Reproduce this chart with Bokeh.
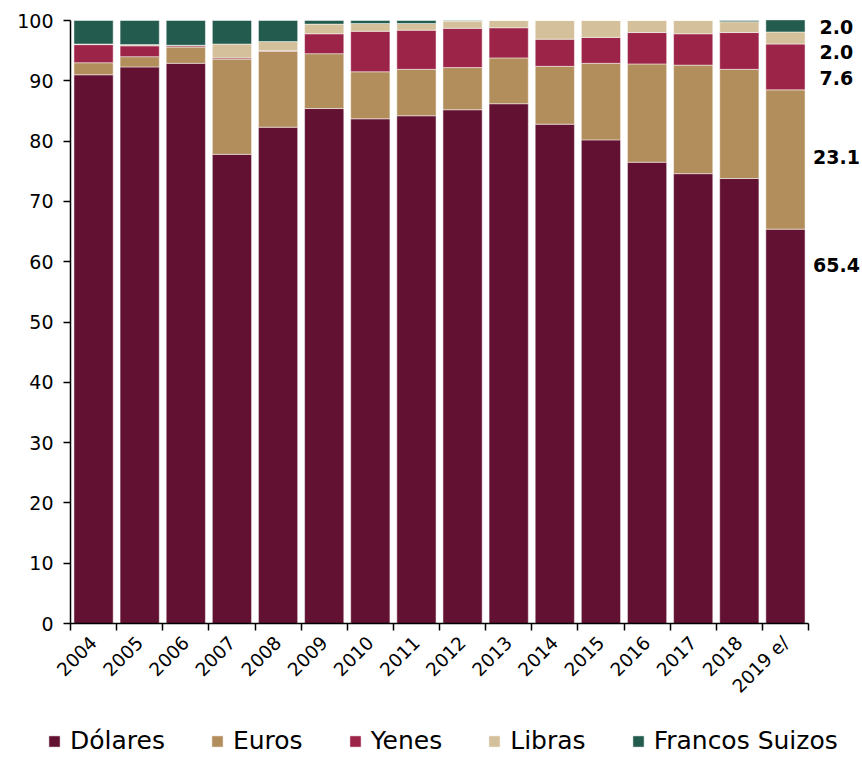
import numpy as np
from bokeh.plotting import figure
from bokeh.models import ColumnDataSource, FixedTicker, Legend, LegendItem, Range1d
from bokeh.core.properties import value
from bokeh.embed import file_html
from bokeh.resources import INLINE

# Currency composition of the debt, percent of total
years = ["2004", "2005", "2006", "2007", "2008", "2009", "2010", "2011",
         "2012", "2013", "2014", "2015", "2016", "2017", "2018", "2019 e/"]
dolares = [91.0, 92.3, 92.9, 77.8, 82.3, 85.4, 83.7, 84.2,
           85.2, 86.2, 82.8, 80.2, 76.5, 74.6, 73.8, 65.4]
euros = [2.0, 1.7, 2.7, 15.8, 12.6, 9.1, 7.8, 7.7,
         7.0, 7.6, 9.6, 12.7, 16.3, 18.0, 18.1, 23.1]
yenes = [3.0, 1.8, 0.2, 0.2, 0.1, 3.3, 6.7, 6.5,
         6.5, 5.0, 4.5, 4.3, 5.2, 5.2, 6.1, 7.6]
libras = [0.1, 0.2, 0.1, 2.3, 1.5, 1.6, 1.3, 1.1,
          1.2, 1.2, 3.1, 2.8, 2.0, 2.2, 1.8, 2.0]
francos = [3.9, 4.0, 4.1, 3.9, 3.5, 0.6, 0.5, 0.5,
           0.1, 0.0, 0.0, 0.0, 0.0, 0.0, 0.2, 2.0]

series_names = ["Dólares", "Euros", "Yenes", "Libras", "Francos Suizos"]
keys = ["dolares", "euros", "yenes", "libras", "francos"]
colors = ["#621132", "#B38E5D", "#9D2449", "#D4C19C", "#235B4E"]

FONT = "DejaVu Sans"
W, H = 862, 758
# plotting area in pixels: x 70..808, y 20..623
left, right, top, bottom = 70, 808, 20, 623

n = len(years)
xu = (right - left) / n          # pixels per bar slot
yu = (bottom - top) / 100.0      # pixels per percentage point

xpos = np.arange(n) + 0.5
src = ColumnDataSource(dict(x=xpos, dolares=dolares, euros=euros,
                            yenes=yenes, libras=libras, francos=francos))

p = figure(width=W, height=H,
           x_range=Range1d(-left / xu, (W - left) / xu),
           y_range=Range1d(-(H - bottom) / yu, 100 + top / yu),
           output_backend="svg", toolbar_location=None,
           min_border=0, min_border_left=0, min_border_right=0,
           min_border_top=0, min_border_bottom=0)
p.outline_line_color = None
p.xgrid.grid_line_color = None
p.ygrid.grid_line_color = None
p.background_fill_color = "white"
p.border_fill_color = "white"

renderers = p.vbar_stack(keys, x="x", width=0.85, color=colors, source=src,
                         line_color="white", line_width=0.8, line_alpha=0.6)

# y axis
p.yaxis.fixed_location = 0
p.yaxis.bounds = (0, 100)
p.yaxis.ticker = FixedTicker(ticks=list(range(0, 101, 10)))
p.yaxis.axis_line_color = "black"
p.yaxis.axis_line_width = 1.5
p.yaxis.major_tick_line_width = 1.5
p.yaxis.major_tick_out = 7
p.yaxis.major_tick_in = 0
p.yaxis.minor_tick_line_color = None
p.yaxis.major_label_text_font = FONT
p.yaxis.major_label_text_font_size = "19px"
p.yaxis.major_label_text_color = "black"
p.yaxis.major_label_standoff = 10

# x axis: labels at bar centres, ticks between bars
p.xaxis.fixed_location = 0
p.xaxis.bounds = (0, n)
p.xaxis.ticker = FixedTicker(ticks=list(xpos), minor_ticks=list(range(n + 1)))
p.xaxis.major_label_overrides = {float(v): y for v, y in zip(xpos, years)}
p.xaxis.major_tick_out = 0
p.xaxis.major_tick_in = 0
p.xaxis.minor_tick_out = 7
p.xaxis.minor_tick_in = 0
p.xaxis.minor_tick_line_width = 1.5
p.xaxis.minor_tick_line_color = "black"
p.xaxis.axis_line_width = 1.5
p.xaxis.major_label_orientation = np.pi / 4
p.xaxis.major_label_text_font = FONT
p.xaxis.major_label_text_font_size = "18.5px"
p.xaxis.major_label_text_color = "black"
p.xaxis.major_label_standoff = 9

# value labels for the last year, beside its bar
last = [dolares[-1], euros[-1], yenes[-1], libras[-1], francos[-1]]
label_y = [59.4, 77.3, 90.4, 94.7, 99.0]
p.text(x=[xpos[-1]] * len(last), y=label_y, text=[f"{v:.1f}" for v in last],
       x_offset=51, text_align="center", text_baseline="middle",
       text_font=value(FONT), text_font_style="bold",
       text_font_size="19px", text_color="black")

legend = Legend(items=[LegendItem(label=nm, renderers=[r])
                       for nm, r in zip(series_names, renderers)],
                orientation="horizontal", location=(47, 3),
                border_line_color=None, background_fill_alpha=0,
                padding=0, margin=0, spacing=45, label_standoff=9,
                glyph_width=14, glyph_height=14, label_height=26,
                label_text_font=FONT, label_text_font_size="25px",
                label_text_color="black")
p.add_layout(legend)

open("out.html", "w").write(file_html(p, INLINE))
